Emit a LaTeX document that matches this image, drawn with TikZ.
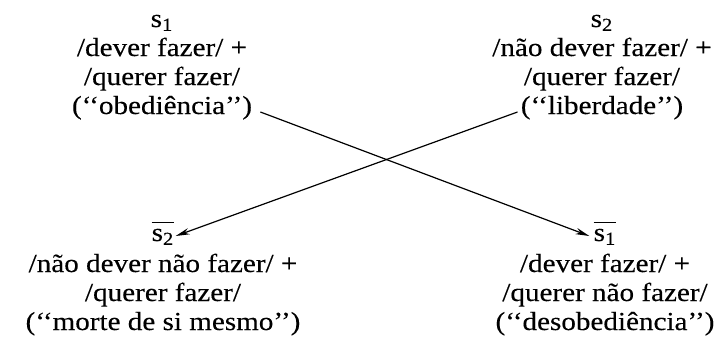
\documentclass[tikz,border=0pt]{standalone}
\usepackage{fontspec}
\setmainfont{Liberation Serif}[FakeStretch=1.12,FakeBold=0.2]
\usetikzlibrary{arrows.meta}
\newcommand{\negsym}[1]{$\overline{\mbox{\rule{0pt}{8pt}s\textsubscript{#1}}}$}
\tikzset{
  txt/.style={inner sep=0pt, anchor=base, font=\fontsize{13}{15}\selectfont},
  link/.style={line width=0.6pt, -{Stealth[length=7pt,width=3.2pt]}}
}
\begin{document}
\begin{tikzpicture}[x=0.5pt,y=-0.5pt]
\useasboundingbox (0,0) rectangle (724,344);
% upper left: s1
\node[txt] (s1) at (162,27) {s\textsubscript{1}};
\node[txt] (s1a) at (162,56) {/dever fazer/ +};
\node[txt] (s1b) at (162,85) {/querer fazer/};
\node[txt] (s1c) at (162,114) {(‘‘obediência’’)};
% upper right: s2
\node[txt] (s2) at (602,27) {s\textsubscript{2}};
\node[txt] (s2a) at (602,56) {/não dever fazer/ +};
\node[txt] (s2b) at (602,85) {/querer fazer/};
\node[txt] (s2c) at (602,114) {(‘‘liberdade’’)};
% lower left: not s2
\node[txt] (ns2) at (163,241) {\negsym{2}};
\node[txt] (ns2a) at (163,272) {/não dever não fazer/ +};
\node[txt] (ns2b) at (163,301) {/querer fazer/};
\node[txt] (ns2c) at (163,330) {(‘‘morte de si mesmo’’)};
% lower right: not s1
\node[txt] (ns1) at (605,241) {\negsym{1}};
\node[txt] (ns1a) at (605,272) {/dever fazer/ +};
\node[txt] (ns1b) at (605,301) {/querer não fazer/};
\node[txt] (ns1c) at (605,330) {(‘‘desobediência’’)};
% the two crossing arrows
\draw[link] ([xshift=4pt,yshift=1pt]s1c.base east) -- ([xshift=-2pt,yshift=2.5pt]ns1.base west);
\draw[link] ([xshift=-1.5pt,yshift=1pt]s2c.base west) -- ([xshift=0.5pt,yshift=2.5pt]ns2.base east);
\end{tikzpicture}
\end{document}
